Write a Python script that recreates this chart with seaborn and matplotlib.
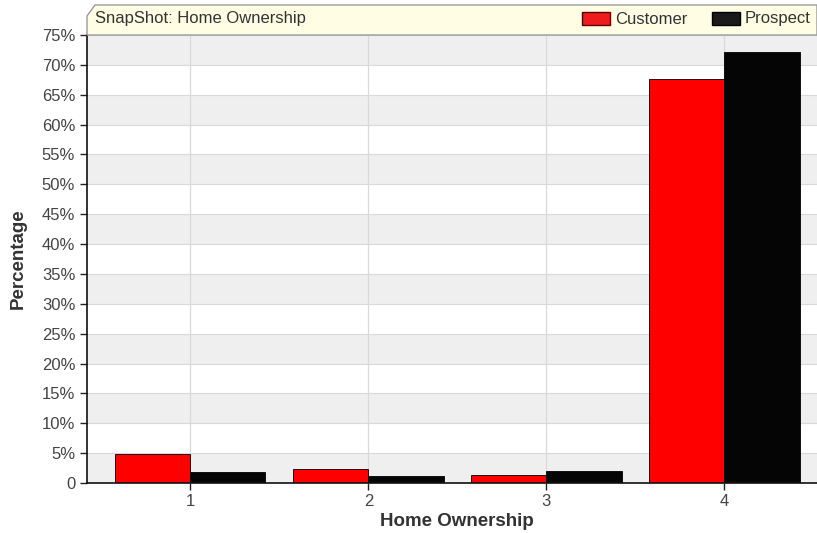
import numpy as np
import pandas as pd
import matplotlib
matplotlib.use("Agg")
import matplotlib.pyplot as plt
from matplotlib.patches import Polygon, Rectangle
import seaborn as sns

# values
categories = ["1", "2", "3", "4"]
customer = [4.8, 2.4, 1.4, 67.6]
prospect = [1.9, 1.15, 1.95, 72.2]
series_names = ["Customer", "Prospect"]
y_ticks = list(range(0, 80, 5))
y_tick_labels = ["0"] + [f"{t}%" for t in y_ticks[1:]]

df = pd.DataFrame({
    "Home Ownership": categories * 2,
    "Percentage": customer + prospect,
    "Series": [series_names[0]] * 4 + [series_names[1]] * 4,
})

sns.set_style("white")
plt.rcParams["font.family"] = ["Liberation Sans", "DejaVu Sans"]

W, H = 817, 533
fig = plt.figure(figsize=(W / 100, H / 100), dpi=100)
ax = fig.add_axes([87 / W, (H - 483) / H, 1 - 87 / W, (483 - 35) / H])

# alternating horizontal bands
for lo in range(0, 75, 5):
    if (lo // 5) % 2 == 0:
        ax.axhspan(lo, lo + 5, color="#efefef", zorder=0, lw=0)
for t in y_ticks:
    ax.axhline(t, color="#d9d9d9", lw=0.8, zorder=0.5)
for i in range(len(categories)):
    ax.axvline(i, color="#d9d9d9", lw=0.9, zorder=0.5)

palette = {"Customer": "#ff0000", "Prospect": "#050505"}
sns.barplot(data=df, x="Home Ownership", y="Percentage", hue="Series",
            palette=palette, width=0.845, saturation=1, ax=ax,
            edgecolor="#5a0000", linewidth=0.6, zorder=2, legend=False)
for p in ax.patches[4:]:
    p.set_edgecolor("#000000")

ax.set_xlim(-0.58, 3.52)
ax.set_ylim(0, 75)
ax.set_yticks(y_ticks)
ax.set_yticklabels(y_tick_labels)
ax.tick_params(axis="both", labelsize=12, labelcolor="#444444", colors="#222222",
               length=5, width=1, direction="out", left=True, bottom=True)
ax.tick_params(axis="x", pad=3)
ax.set_xlabel("Home Ownership", fontsize=13.5, fontweight="bold", color="#333333")
ax.set_ylabel("Percentage", fontsize=13.5, fontweight="bold", color="#333333")
ax.xaxis.set_label_coords((457 - 87) / (W - 87), -(521 - 483) / (483 - 35))
ax.yaxis.set_label_coords(-(87 - 18) / (W - 87), 0.5)
ax.xaxis.label.set_va("center")
ax.yaxis.label.set_va("center")
for side in ["top", "right"]:
    ax.spines[side].set_visible(False)
for side in ["left", "bottom"]:
    ax.spines[side].set_color("#111111")
    ax.spines[side].set_linewidth(1.2)

# title strip with chamfered corner
def fx(px):
    return px / W

def fy(py):
    return (H - py) / H

strip = Polygon([(fx(87), fy(35)), (fx(87), fy(16)), (fx(95), fy(5)),
                 (fx(817), fy(5)), (fx(817), fy(35))],
                closed=True, transform=fig.transFigure,
                facecolor="#fffde3", edgecolor="#9a9a9a", lw=1.0, zorder=3)
fig.patches.append(strip)
fig.text(fx(95), fy(19), "SnapShot: Home Ownership", fontsize=12,
         color="#333333", va="center", ha="left")

# legend swatches
for x0, name, col, edge in [(582, "Customer", "#ee1c1c", "#5a0000"),
                            (712, "Prospect", "#1a1a1a", "#000000")]:
    fig.patches.append(Rectangle((fx(x0), fy(25)), 28 / W, 13 / H,
                                 transform=fig.transFigure, facecolor=col,
                                 edgecolor=edge, lw=1.0, zorder=4))
    fig.text(fx(x0 + 33), fy(19), name, fontsize=12, color="#333333",
             va="center", ha="left")

fig.savefig("out.png", dpi=100)
